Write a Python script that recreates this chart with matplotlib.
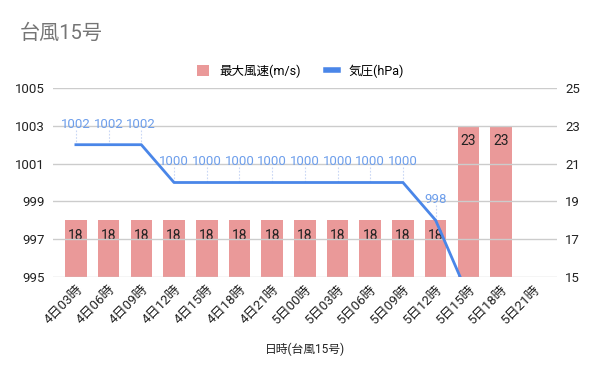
import numpy as np
import matplotlib
matplotlib.use('Agg')
import matplotlib.pyplot as plt
from matplotlib.lines import Line2D
from matplotlib.patches import Patch

plt.rcParams['font.family'] = ['Roboto', 'Noto Sans CJK JP', 'DejaVu Sans']

labels = ['4日03時', '4日06時', '4日09時', '4日12時', '4日15時', '4日18時', '4日21時',
          '5日00時', '5日03時', '5日06時', '5日09時', '5日12時', '5日15時', '5日18時', '5日21時']
wind = [18, 18, 18, 18, 18, 18, 18, 18, 18, 18, 18, 18, 23, 23, np.nan]
pressure = [1002, 1002, 1002, 1000, 1000, 1000, 1000, 1000, 1000, 1000, 1000, 998, 994, np.nan, np.nan]

bar_color = '#ea9999'
line_color = '#4a86e8'
label_blue = '#6d9eeb'
text_color = '#222222'

fig = plt.figure(figsize=(6, 3.71), dpi=100)
ax = fig.add_axes([53 / 600, 1 - 277 / 371, 504 / 600, 189 / 371])
ax2 = ax.twinx()

x = np.arange(len(labels))

# bars on right axis
ax2.bar(x + 0.03, wind, width=0.66, bottom=0, color=bar_color, zorder=2)
for xi, w in zip(x, wind):
    if not np.isnan(w):
        ax2.text(xi + 0.03, w - 0.45, f'{int(w)}', ha='center', va='top', fontsize=10,
                 color=text_color, zorder=3)
ax2.set_ylim(15, 25)
ax2.set_yticks(np.arange(15, 26, 2))

# line on left axis (drawn on top)
ax.set_zorder(ax2.get_zorder() + 1)
ax.patch.set_visible(False)
ax.plot(x + 0.03, pressure, color=line_color, lw=2, zorder=4, clip_on=True)
for xi, p in zip(x, pressure):
    if not np.isnan(p) and p >= 995:
        ax.plot([xi + 0.03, xi + 0.03], [p, p + 0.8], color='#c9d7f5', lw=0.8,
                ls=(0, (1.5, 1.5)), zorder=3)
        ax.text(xi + 0.03, p + 0.75, f'{int(p)}', ha='center', va='bottom', fontsize=9.5,
                color=label_blue, zorder=5)
ax.set_ylim(995, 1005)
ax.set_yticks(np.arange(995, 1006, 2))
ax.set_xlim(-0.67, 14.74)
ax.set_xticks(x + 0.03)
ax.set_xticklabels(labels, rotation=45, ha='right', rotation_mode='anchor', fontsize=8.5,
                   color=text_color)
ax.set_xlabel('日時(台風15号)', fontsize=8.5, color=text_color, labelpad=12)

ax.grid(axis='y', color='#cccccc', lw=1, zorder=0)
ax2.grid(False)
for a in (ax, ax2):
    for s in a.spines.values():
        s.set_visible(False)
    a.tick_params(length=0, labelsize=9.5, colors=text_color, pad=6)
ax.tick_params(axis='x', pad=4)

fig.text(20 / 600, 1 - 33 / 371, '台風15号', fontsize=14.5, color='#757575', va='center')

handles = [Patch(facecolor=bar_color, edgecolor='none'),
           Line2D([0], [0], color=line_color, lw=4)]
fig.legend(handles, ['最大風速(m/s)', '気圧(hPa)'], loc='center', bbox_to_anchor=(0.5, 1 - 71 / 371),
           ncol=2, frameon=False, fontsize=9, handlelength=1.0, handleheight=1.0,
           columnspacing=2.0, handletextpad=0.8)

fig.savefig('out.png', dpi=100)
